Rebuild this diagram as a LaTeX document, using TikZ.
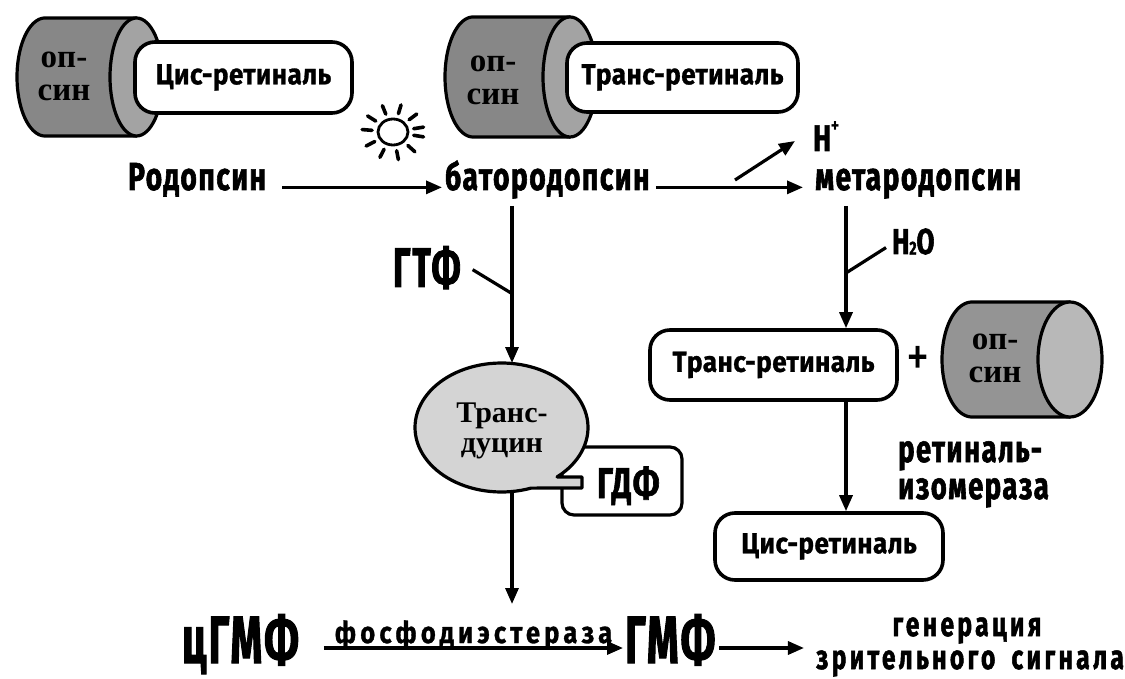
\documentclass[tikz,border=0pt]{standalone}
\usepackage{fontspec}
\setmainfont{Fira Sans}
\usetikzlibrary{arrows.meta}
% condensed heavy labels
\newfontfamily\lbl{Fira Sans}[FakeStretch=0.72,LetterSpace=4,FakeBold=1.5]
\newfontfamily\lblnarrow{Fira Sans}[FakeStretch=0.6,LetterSpace=4,FakeBold=1.5]
\newfontfamily\lblwide{Fira Sans}[FakeStretch=0.72,LetterSpace=10,FakeBold=1.5]
\newfontfamily\lblpde{Fira Sans}[FakeStretch=0.85,LetterSpace=14,FakeBold=1]
\newfontfamily\lblplain{Fira Sans}[FakeStretch=0.8]
\newfontfamily\boxf{Fira Sans}[FakeStretch=0.9,LetterSpace=1.5,FakeBold=1]
\newfontfamily\prot{Liberation Serif}
\newcommand\setfs[1]{\fontsize{#1}{#1}\selectfont}
% opsin cylinder: left-end centre x, left rx, right-end centre x, right rx, cy, ry, body colour, face colour
\newcommand\drawcyl[8]{%
  \draw[line width=3.2pt,fill=#7,line join=round] (#3,#5-#6) --
    plot[domain=-90:90,samples=50] ({#1-#2*cos(\x)},{#5+#6*sin(\x)}) --
    (#3,#5+#6) -- cycle;
  \draw[line width=3.2pt,fill=#8] (#3,#5) ellipse[x radius=#4,y radius=#6];
}
\begin{document}
\begin{tikzpicture}[x=1pt,y=-1pt,
  arr/.style={line width=3.2pt,-{Triangle[length=16pt,width=13pt]}},
  ln/.style={line width=3.2pt},
  tag/.style={inner sep=0pt,anchor=base west},
  retbox/.style={draw,line width=3.6pt,rounded corners=20pt,fill=white,inner sep=0pt,font=\boxf\bfseries\setfs{29}},
  prottext/.style={inner sep=0pt,align=center,font=\prot\bfseries\setfs{33}}
]
\fill[white] (0,0) rectangle (1125,679);
\useasboundingbox (0,0) rectangle (1125,679);

% opsin cylinders
\drawcyl{45}{28}{136.5}{26.5}{77}{59}{black!47}{black!36}
\drawcyl{473}{28}{570}{27}{77}{60}{black!47}{black!36}
\drawcyl{972}{30}{1070}{32}{359.5}{57.5}{black!42}{black!28}
\node[prottext] (op1) at (64,76) {оп-\\син};
\node[prottext] (op2) at (493,80) {оп-\\син};
\node[prottext] (op3) at (995,358) {оп-\\син};

% retinal boxes
\node[retbox,minimum width=217pt,minimum height=71pt] (cis1) at (243.5,77.5) {Цис-ретиналь};
\node[retbox,minimum width=231pt,minimum height=69pt] (trans1) at (682.5,77.5) {Транс-ретиналь};
\node[retbox,minimum width=247pt,minimum height=70pt] (trans2) at (773.5,365) {Транс-ретиналь};
\node[retbox,minimum width=228pt,minimum height=67pt] (cis2) at (829,546.5) {Цис-ретиналь};

% light
\draw[line width=2.8pt] (393,132) ellipse[x radius=15,y radius=13];
\foreach \a in {10,45,80,115,150,185,215,250,285,320,350}
  \draw[line width=3.6pt,line cap=round] ({393+21*cos(\a)},{132+19*sin(\a)}) -- ({393+31*cos(\a)},{132+28*sin(\a)});

% transducin with bound GDP
\node[draw,line width=3.2pt,rounded corners=12pt,fill=white,minimum width=120pt,minimum height=68pt,inner sep=0pt] (gdfbox) at (622,481) {};
\draw[line width=3.2pt,fill=black!17,line join=round]
  plot[domain=70:410,samples=100] ({501.5+86.5*cos(\x)},{427.5+64.5*sin(\x)})
  -- (582,477) -- (582,488) -- cycle;
\node[prottext,font=\prot\bfseries\setfs{30}] (transd) at (502,431) {Транс-\\дуцин};
\node[tag,font=\lbl\bfseries\setfs{43}] (gdf) at (597,498) {ГДФ};

% labels
\node[tag,font=\lbl\bfseries\setfs{39}] (rhod) at (128,190) {Родопсин};
\node[tag,font=\lbl\bfseries\setfs{39}] (batho) at (445,190) {батородопсин};
\node[tag,font=\lbl\bfseries\setfs{39}] (meta) at (815,190) {метародопсин};
\node[tag,font=\lbl\bfseries\setfs{37}] (hion) at (813,151) {H\raisebox{0.5em}{\lblplain\setfs{20}+}};
\node[tag,font=\lbl\bfseries\setfs{36}] (h2o) at (892,254) {H\raisebox{-0.02em}{\setfs{19}2}O};
\node[tag,font=\lblnarrow\bfseries\setfs{56}] (gtf) at (393,287) {ГТФ};
\node[inner sep=0pt,anchor=north west,align=left,font=\lbl\bfseries\fontsize{38}{37}\selectfont] (retiso) at (898,441) {ретиналь-\\изомераза};
\node[inner sep=0pt,font=\lblplain\setfs{58}] (plus) at (918,361) {+};
\node[tag,font=\lblnarrow\bfseries\setfs{67}] (cgmp) at (182,663) {цГМФ};
\node[tag,font=\lblnarrow\bfseries\setfs{67}] (gmp) at (625,663) {ГМФ};
\node[inner sep=0pt,anchor=base,font=\lblwide\bfseries\setfs{34}] (gen1) at (967,636) {генерация};
\node[inner sep=0pt,anchor=base,font=\lblwide\bfseries\setfs{34}] (gen2) at (970,669) {зрительного\hspace{7pt} сигнала};

% connectors
\coordinate (fork) at (735,180);
\coordinate (htip) at (795,141);
\coordinate (bx) at (512,206);
\coordinate (bubtop) at (512,363);
\coordinate (gj) at (511,293);
\coordinate (bb) at (512,492);
\coordinate (pj) at (512,604);
\coordinate (mx) at (846,206);
\coordinate (wj) at (846,273);
\coordinate (r3) at (0,648);

\draw[arr] ([xshift=16pt]rhod.mid east) -- ([xshift=-3pt]batho.mid west);
\draw[arr] ([xshift=6pt]batho.mid east) -- ([xshift=-12pt]meta.mid west);
\draw[arr] (fork) -- (htip);
\draw[arr] (bx) -- (bubtop);
\draw[ln] ([shift={(12,2)}]gtf.east) -- (gj);
\draw[arr] (bb) -- (pj);
\draw[arr] (mx) -- (mx |- trans2.north);
\draw[ln] (wj) -- ([shift={(-6,6)}]h2o.west);
\draw[arr] (mx |- trans2.south) -- (mx |- cis2.north);
\draw[arr] ([xshift=25pt]cgmp.east |- r3) -- ([xshift=-2pt]gmp.west |- r3)
  node[pos=0.5,anchor=base,inner sep=0pt,shift={(0,-5)},font=\lblpde\bfseries\setfs{30}] (pde) {фосфодиэстераза};
\draw[arr] ([xshift=4pt]gmp.east |- r3) -- ([xshift=-12pt]gen2.west |- r3);
\end{tikzpicture}
\end{document}
